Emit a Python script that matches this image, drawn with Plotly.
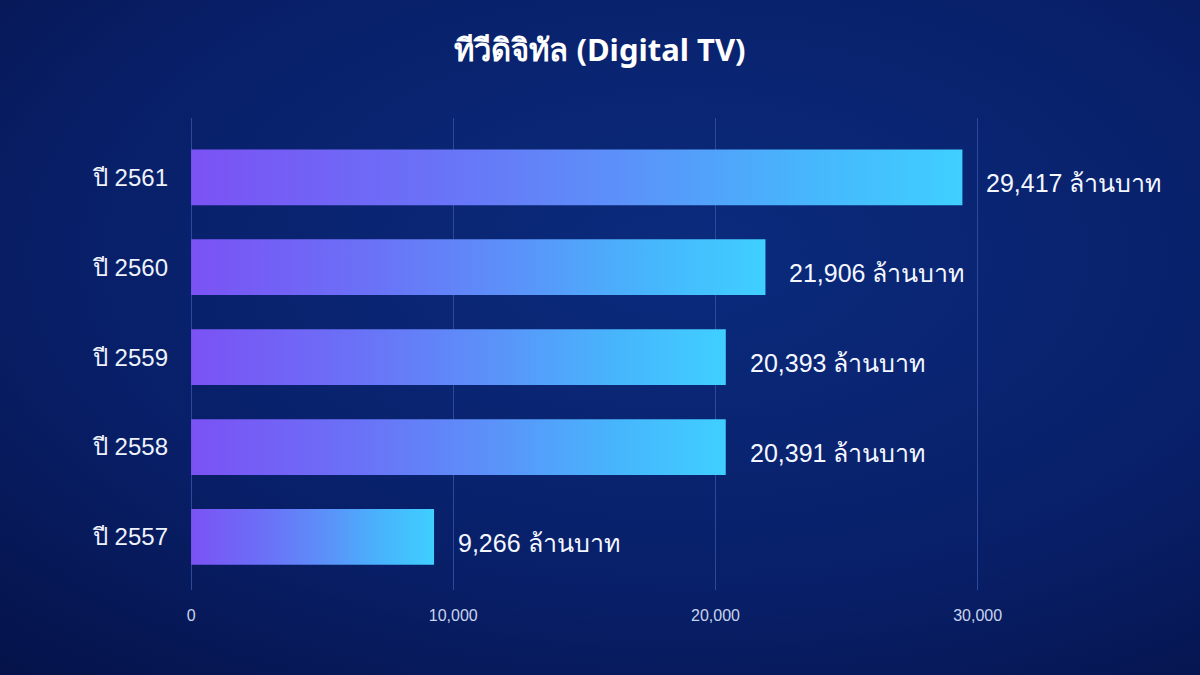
import base64
import plotly.graph_objects as go

# data (values in million baht)
years = ["ปี 2557", "ปี 2558", "ปี 2559", "ปี 2560", "ปี 2561"]
revenue = [9266, 20391, 20393, 21906, 29417]
unit = "ล้านบาท"
x_ticks = [0, 10000, 20000, 30000]
x_tick_text = ["0", "10,000", "20,000", "30,000"]

title = "ทีวีดิจิทัล (Digital TV)"
bar_half = 0.31
grad = [[0, "#7b52f4"], [0.3, "#6b70f7"], [0.55, "#5c90f9"], [0.8, "#47b6fc"], [1, "#3fcfff"]]

# radial background as an svg image
bg_svg = """<svg xmlns='http://www.w3.org/2000/svg' width='1200' height='675'>
<defs><radialGradient id='g' cx='50%' cy='40%' r='75%'>
<stop offset='0%' stop-color='#0b2b7d'/>
<stop offset='60%' stop-color='#081f68'/>
<stop offset='100%' stop-color='#051249'/>
</radialGradient></defs>
<rect width='1200' height='675' fill='url(#g)'/></svg>"""
bg_uri = "data:image/svg+xml;base64," + base64.b64encode(bg_svg.encode()).decode()

fig = go.Figure()

for i, v in enumerate(revenue):
    fig.add_trace(go.Scatter(
        x=[0, v, v, 0, 0],
        y=[i - bar_half, i - bar_half, i + bar_half, i + bar_half, i - bar_half],
        mode="lines",
        line=dict(width=0),
        fill="toself",
        fillgradient=dict(type="horizontal", colorscale=grad),
        hoverinfo="skip",
        showlegend=False,
    ))
    fig.add_annotation(
        x=v, y=i, xref="x", yref="y",
        text=f"{v:,} {unit}",
        showarrow=False, xanchor="left", xshift=22, yshift=-6,
        font=dict(family="Liberation Sans, Arial, sans-serif", size=25, color="#f4f7ff"),
    )

fig.update_layout(
    width=1200, height=675,
    paper_bgcolor="#081d62",
    plot_bgcolor="rgba(0,0,0,0)",
    margin=dict(l=189, r=65, t=118, b=85),
    title=dict(
        text=f"<b>{title}</b>",
        x=0.5, xanchor="center", y=0.925, yanchor="middle",
        font=dict(family="Noto Sans, sans-serif", size=31, color="#ffffff"),
    ),
    images=[dict(
        source=bg_uri, xref="paper", yref="paper",
        x=-0.2, y=1.35, sizex=1.45, sizey=1.6,
        xanchor="left", yanchor="top", sizing="stretch", layer="below",
    )],
    xaxis=dict(
        range=[-80, 36000],
        tickvals=x_ticks, ticktext=x_tick_text,
        showgrid=True, gridcolor="#2b4a9e", gridwidth=1,
        zeroline=False, showline=False,
        ticklabelstandoff=14,
        tickfont=dict(family="Liberation Sans Narrow, Liberation Sans, sans-serif", size=16, color="#c9d5ee"),
    ),
    yaxis=dict(
        range=[-0.59, 4.66],
        tickvals=list(range(len(years))), ticktext=years,
        showgrid=False, zeroline=False, showline=False,
        ticklabelstandoff=20,
        tickfont=dict(family="Liberation Sans, Arial, sans-serif", size=24, color="#eef2fb"),
    ),
)

fig.write_html("out.html", config={"displayModeBar": False},
               post_script="document.body.style.margin='0';")
